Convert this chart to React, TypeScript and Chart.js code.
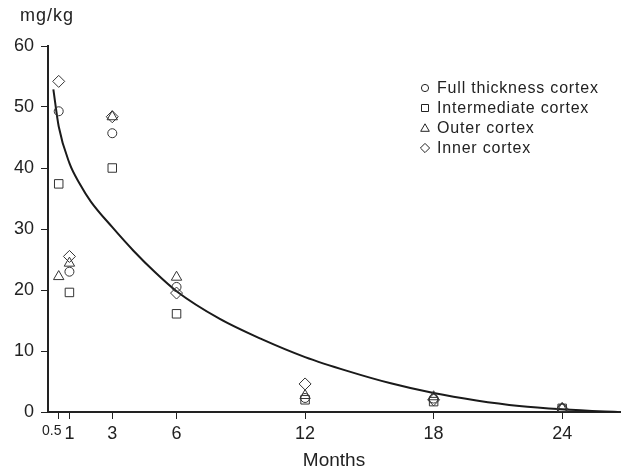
import React, { useEffect, useRef } from 'react';
import { Chart, registerables } from 'chart.js';

Chart.register(...registerables);

// ---- data ----
const monthTicks = [0.5, 1, 3, 6, 12, 18, 24];
const sampleMonths = [0.5, 1, 3, 6, 12, 18, 24];
const fullThickness = [49.3, 23.0, 45.7, 20.5, 2.3, 2.2, 0.6];
const intermediate = [37.4, 19.6, 40.0, 16.1, 2.0, 1.7, 0.6];
const outerCortex = [22.2, 24.4, 48.4, 22.1, 2.7, 2.5, 0.6];
const innerCortex = [54.2, 25.5, 48.4, 19.5, 4.6, 2.0, 0.5];
const fitMonths = [0.25, 0.5, 1, 1.5, 2, 3, 4, 5, 6, 8, 10, 12, 14, 16, 18, 20, 22, 24, 26, 26.6];
const fitValues = [52.9, 46.8, 40.8, 37.3, 34.5, 30.3, 26.4, 22.9, 19.8, 15.3, 11.9, 9.0, 6.7, 4.7, 3.1, 1.9, 1.0, 0.45, 0.08, 0];
const seriesLabels = ['Full thickness cortex', 'Intermediate cortex', 'Outer cortex', 'Inner cortex'];
const seriesValues = [fullThickness, intermediate, outerCortex, innerCortex];
const seriesStyles = ['circle', 'rect', 'triangle', 'rectRot'];
const seriesRadius = [4.5, 6, 6, 6];

const FONT = '"Liberation Sans", Arial, Helvetica, sans-serif';
const INK = '#222';

function drawMarker(ctx: CanvasRenderingContext2D, style: string, x: number, y: number) {
  ctx.beginPath();
  if (style === 'circle') {
    ctx.arc(x, y, 3.6, 0, Math.PI * 2);
  } else if (style === 'rect') {
    ctx.rect(x - 3.5, y - 3.5, 7, 7);
  } else if (style === 'triangle') {
    ctx.moveTo(x, y - 4.2);
    ctx.lineTo(x + 4.3, y + 3.3);
    ctx.lineTo(x - 4.3, y + 3.3);
    ctx.closePath();
  } else {
    ctx.moveTo(x, y - 4.6);
    ctx.lineTo(x + 4.6, y);
    ctx.lineTo(x, y + 4.6);
    ctx.lineTo(x - 4.6, y);
    ctx.closePath();
  }
  ctx.stroke();
}

const annotations = {
  id: 'annotations',
  afterDraw(chart: any) {
    const ctx = chart.ctx as CanvasRenderingContext2D;
    ctx.save();
    ctx.fillStyle = INK;
    ctx.strokeStyle = INK;
    ctx.lineWidth = 1;
    // y unit
    ctx.font = '18px ' + FONT;
    (ctx as any).letterSpacing = '1px';
    ctx.textAlign = 'left';
    ctx.textBaseline = 'alphabetic';
    ctx.fillText('mg/kg', 20, 21);
    // legend
    ctx.font = '16px ' + FONT;
    (ctx as any).letterSpacing = '0.8px';
    ctx.textBaseline = 'middle';
    seriesLabels.forEach((label, i) => {
      const y = 88 + i * 20;
      drawMarker(ctx, seriesStyles[i], 425, y);
      ctx.fillText(label, 437, y + 1);
    });
    ctx.restore();
  },
};

export default function App() {
  const ref = useRef<HTMLCanvasElement | null>(null);
  useEffect(() => {
    if (!ref.current) return;
    const datasets: any[] = seriesLabels.map((label, i) => ({
      label,
      data: sampleMonths.map((m, j) => ({ x: m, y: seriesValues[i][j] })),
      pointStyle: seriesStyles[i],
      pointRadius: seriesRadius[i],
      pointBorderColor: '#333',
      pointBackgroundColor: 'rgba(0,0,0,0)',
      pointBorderWidth: 1,
      showLine: false,
    }));
    datasets.push({
      label: 'fit',
      data: fitMonths.map((m, j) => ({ x: m, y: fitValues[j] })),
      showLine: true,
      borderColor: '#1a1a1a',
      borderWidth: 2,
      pointRadius: 0,
      cubicInterpolationMode: 'monotone',
      fill: false,
    });
    const chart = new Chart(ref.current, {
      type: 'scatter',
      data: { datasets },
      options: {
        animation: false,
        responsive: false,
        maintainAspectRatio: false,
        layout: { padding: { top: 46, right: 8, left: 0, bottom: 0 } },
        plugins: { legend: { display: false }, tooltip: { enabled: false } },
        scales: {
          x: {
            type: 'linear',
            min: 0,
            max: 26.7,
            afterBuildTicks: (scale: any) => {
              scale.ticks = monthTicks.map((v) => ({ value: v }));
            },
            afterFit: (scale: any) => {
              scale.height = 60;
            },
            border: { display: true, color: INK, width: 2 },
            grid: { display: true, drawOnChartArea: false, drawTicks: true, tickLength: 7, color: INK, lineWidth: 1 },
            ticks: {
              autoSkip: false,
              maxRotation: 0,
              padding: 4,
              color: INK,
              callback: (v: any) => (v === 0.5 ? '0.5\u2002\u2002' : String(v)),
              font: (c: any) => ({ family: FONT, size: c.tick && c.tick.value === 0.5 ? 14 : 18 }),
            },
            title: {
              display: true,
              text: 'Months',
              color: INK,
              font: { family: FONT, size: 19 },
              padding: { top: 0, bottom: 0 },
            },
          },
          y: {
            type: 'linear',
            min: 0,
            max: 60,
            afterFit: (scale: any) => {
              scale.width = 48;
            },
            border: { display: true, color: INK, width: 2 },
            grid: { display: true, drawOnChartArea: false, drawTicks: true, tickLength: 7, color: INK, lineWidth: 1 },
            ticks: {
              stepSize: 10,
              padding: 7,
              color: INK,
              font: { family: FONT, size: 18 },
            },
          },
        },
      },
      plugins: [annotations],
    });
    return () => chart.destroy();
  }, []);
  return (
    <div style={{ position: 'absolute', left: 0, top: 0, width: 628, height: 472, background: '#fff' }}>
      <canvas ref={ref} width={628} height={472} style={{ width: 628, height: 472 }} />
    </div>
  );
}
